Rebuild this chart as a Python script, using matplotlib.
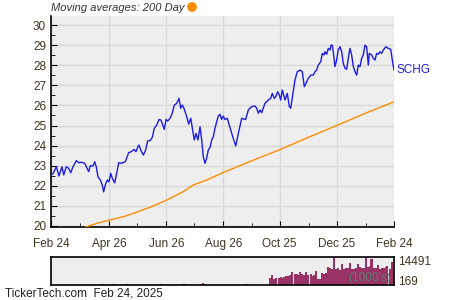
import matplotlib
matplotlib.use("Agg")
import matplotlib.pyplot as plt
from matplotlib.patches import Ellipse
from matplotlib.ticker import MultipleLocator

###############
# donnees (jours depuis le 24 fev 2024)
###############
price_days = [0, 2.1, 5.7, 8.5, 11.7, 13.6, 16.3, 18.9, 21, 23.5, 27, 29.6, 32.3, 36, 37.7,
              40.2, 41.9, 44.8, 46.6, 48.3, 50.1, 52.6, 54.7, 56.2, 57.9, 60.1, 61.9, 63.7,
              65.4, 68, 70.4, 72.2, 75, 79.3, 82.9, 85.7, 88.6, 90.7, 92.8, 93.9, 96, 98.5,
              101, 103.2, 105.6, 108.1, 110.2, 112.8, 115.2, 117.4, 119.2, 120.9, 122.7,
              124.5, 127, 129.4, 131.6, 134.1, 136.6, 138.4, 140.1, 141.9, 144.8, 146.9,
              149.1, 151.2, 152.9, 154.7, 156.8, 159, 160.8, 162.5, 164.3, 166.1, 167.8,
              169.7, 171.5, 173.2, 175, 176.8, 178.5, 180.3, 182.1, 183.8, 185.7, 188.1,
              190.2, 192.8, 197.1, 199.9, 203.5, 205.2, 207.7, 210.5, 214.1, 217.7, 219.5,
              221.2, 223, 224.8, 228.3, 231.9, 234.4, 236.1, 238.3, 239.8, 241.9, 243.6,
              245.1, 246.8, 249.7, 252.1, 254.3, 255.8, 258.5, 260.3, 262.8, 265.7, 268.1,
              270.3, 272.1, 274.5, 277.4, 279.9, 281.7, 283.5, 285.2, 287.8, 289.5, 291.3,
              292.4, 294.2, 295.9, 297.7, 298.8, 300.1, 301.2, 303, 304.8, 306.5, 308.4,
              310.2, 311.9, 313.7, 315.5, 317.2, 319, 320.8, 322.6, 324.4, 326.2, 327.9,
              329.7, 331.5, 333.2, 335, 336.8, 338.6, 339.6, 342.2, 343.9, 345.7, 347.5,
              349.2, 351, 352.8, 354.6, 357.4, 359.9, 362.5, 364.2, 366]
price = [22.54, 22.6, 22.95, 22.49, 22.95, 22.54, 22.95, 22.87, 22.65, 22.95, 23.25, 23.15,
         23.17, 23.12, 22.95, 22.7, 23.0, 22.98, 23.2, 22.95, 22.45, 22.29, 22.04, 21.7,
         22.04, 22.29, 22.2, 22.62, 22.37, 22.15, 22.7, 23.15, 23.12, 23.2, 23.65, 23.7,
         23.81, 23.7, 23.95, 24.03, 23.75, 23.53, 23.78, 24.24, 24.24, 24.41, 24.86, 25.02,
         25.3, 25.27, 25.02, 24.81, 25.3, 25.22, 25.36, 25.61, 26.02, 26.1, 26.35, 25.86,
         26.02, 25.86, 25.44, 25.07, 25.36, 24.78, 24.28, 24.61, 24.28, 24.94, 24.28, 23.45,
         23.12, 23.37, 23.78, 23.91, 24.28, 24.44, 24.86, 25.19, 25.47, 25.56, 25.3, 25.47,
         25.3, 25.36, 25.02, 24.61, 23.98, 24.61, 25.36, 25.33, 25.3, 25.77, 25.94, 25.97,
         25.86, 25.61, 25.77, 25.64, 26.1, 26.27, 26.35, 26.6, 26.35, 26.43, 26.68, 26.52,
         26.27, 26.77, 26.27, 26.6, 25.94, 25.86, 26.68, 27.26, 27.68, 27.76, 27.68, 26.93,
         27.1, 27.35, 27.51, 27.51, 27.68, 27.76, 28.01, 28.17, 28.59, 28.51, 28.67, 28.55,
         28.84, 28.76, 29.0, 29.0, 28.67, 27.93, 28.26, 28.76, 28.92, 28.67, 28.09, 27.85,
         27.8, 28.34, 28.84, 28.51, 27.93, 27.68, 27.51, 28.01, 27.93, 28.34, 28.51, 29.0,
         28.92, 28.01, 28.59, 28.51, 28.34, 28.26, 28.59, 28.55, 28.67, 28.59, 28.76, 28.92,
         28.84, 28.79, 28.26, 27.76]

ma_days = [37, 48.8, 59.4, 77.1, 87.8, 105.6, 123.4, 141.2, 151.8, 166.1, 185.7, 214.5,
           244.3, 274, 304.8, 335, 366]
ma200 = [19.95, 20.13, 20.26, 20.46, 20.63, 20.93, 21.29, 21.71, 22.04, 22.29, 22.7, 23.25,
         23.8, 24.4, 25.0, 25.6, 26.18]

vol_days = [54, 67, 81, 117, 141, 143, 160, 162, 164, 208,
            234, 236, 238, 240, 243, 245, 247, 249, 251, 253, 255, 257, 260, 262, 264, 266,
            268, 270, 272, 274, 277, 279, 281, 283, 285, 287, 289, 291, 294, 296, 298, 300,
            302, 304, 306, 308, 311, 313, 315, 317, 319, 321, 323, 325, 328, 330, 332, 334,
            336, 338, 340, 342, 345, 347, 349, 351, 353, 355, 357, 359, 362, 364, 366]
volume = [700, 740, 600, 600, 650, 740, 700, 1100, 900, 740,
          3750, 5325, 3320, 3890, 3750, 4040, 3890, 4040, 4465, 4895, 5040, 6615, 5610, 5900,
          5325, 6470, 5610, 5325, 6470, 5325, 5610, 4895, 5325, 7330, 3175, 3320, 6185, 5900,
          6185, 9050, 8475, 8045, 14491, 8045, 8475, 7615, 10480, 8045, 8475, 8760, 11055,
          8190, 8045, 8760, 10770, 9050, 8475, 8760, 14400, 9050, 9480, 13345, 8760, 8475,
          10195, 8045, 8760, 8475, 9050, 9905, 8045, 11625, 7330]

tick_days = [0, 62, 123, 184, 244, 305, 366]
tick_labels = ["Feb 24", "Apr 26", "Jun 26", "Aug 26", "Oct 25", "Dec 25", "Feb 24"]
minor_days = [31, 92, 153, 214, 275, 336]

##############
# trace
##############
plt.rcParams['font.family'] = ['Liberation Sans', 'DejaVu Sans']
txt = '#3f3420'
fig = plt.figure(figsize=(4.5, 3), dpi=100)

ax = fig.add_axes([51/450, 1-227/300, 343/450, 211/300])
ax.set_facecolor('#eeeeee')
ax.plot(ma_days, ma200, color='#ff8c00', lw=1.0, zorder=3)
ax.plot(price_days, price, color='#1c1ce6', lw=1.0, zorder=4)
ax.set_xlim(0, 366)
ax.set_ylim(19.95, 30.45)
ax.set_xticks(tick_days)
ax.set_xticklabels(tick_labels)
ax.set_xticks(minor_days, minor=True)
ax.yaxis.set_major_locator(MultipleLocator(1))
ax.yaxis.set_minor_locator(MultipleLocator(0.5))
ax.grid(which='major', color='#d9d9d9', lw=1.0)
ax.set_axisbelow(True)
ax.tick_params(which='both', direction='in', colors='black', labelcolor=txt, labelsize=8.5)
ax.tick_params(which='major', length=4)
ax.tick_params(which='minor', length=3)
ax.tick_params(axis='x', pad=8)
for s in ['top', 'right']:
    ax.spines[s].set_visible(False)
for s in ['left', 'bottom']:
    ax.spines[s].set_linewidth(1.2)

ax.text(1.007, (price[-1] - 19.95) / 10.5, "SCHG", transform=ax.transAxes, color='#1c1ce6',
        fontsize=8.5, va='center', ha='left')
fig.text(51/450, 1-8/300, "Moving averages: 200 Day", fontsize=8, style='italic',
         color='#333333', va='center', ha='left')
fig.patches.append(Ellipse((192/450, 1-7/300), 8.4/450, 8.4/300, transform=fig.transFigure,
                           color='#ff8c00', figure=fig))

# volume
axv = fig.add_axes([51/450, 1-285/300, 343/450, 28.5/300])
axv.set_facecolor('#eeeeee')
axv.bar(vol_days, volume, width=2.2, color='#993366', bottom=0, align='center')
axv.set_xlim(0, 366)
axv.set_ylim(169, 14491)
axv.set_xticks([])
axv.set_yticks([])
for s in axv.spines.values():
    s.set_linewidth(1.2)
axv.text(0.99, 0.02, "(1000's)", transform=axv.transAxes, ha='right', va='bottom',
         fontsize=8.5, color='#5f7a6a')
fig.text(398/450, 1-262/300, "14491", fontsize=8.5, color=txt, va='center', ha='left')
fig.text(398/450, 1-282/300, "169", fontsize=8.5, color=txt, va='center', ha='left')

fig.text(5/450, 1-294/300, "TickerTech.com  Feb 24, 2025", fontsize=8.5, color='#222222',
         va='center', ha='left')

plt.savefig("out.png", dpi=100)
